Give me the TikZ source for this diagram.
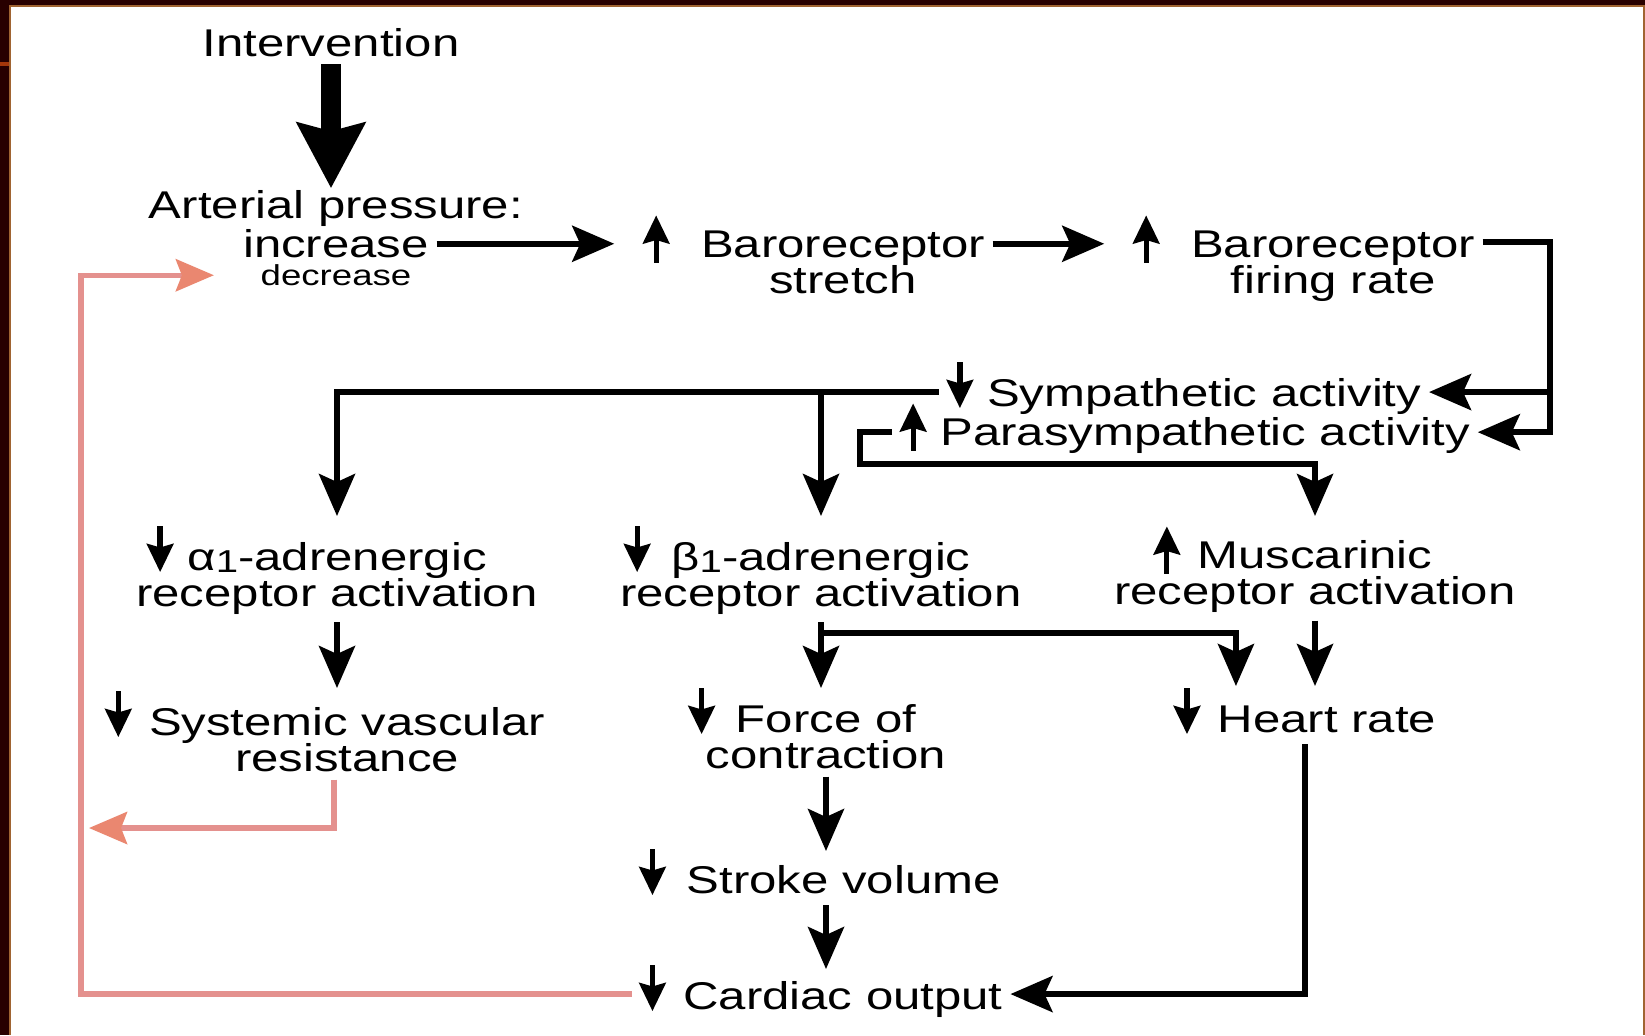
\documentclass[tikz,border=0pt]{standalone}
\usepackage{fontspec}
\setmainfont{Liberation Sans}[FakeStretch=1.27]
\usetikzlibrary{positioning, arrows.meta}
\definecolor{slidebg}{RGB}{40,0,0}
\definecolor{slideedge}{RGB}{160,100,50}
\definecolor{slidetab}{RGB}{165,55,10}
\definecolor{fbline}{RGB}{228,145,142}
\definecolor{fbtip}{RGB}{234,135,112}
\newcommand{\lblfont}{\fontsize{11pt}{10.3pt}\selectfont}
\newcommand{\dnar}{\tikz[baseline=0pt]\draw[line width=1.5pt,-{Stealth[length=8pt,width=7.5pt,inset=1pt]}] (0pt,12.5pt) -- (0pt,-0.5pt);}
\newcommand{\upar}{\tikz[baseline=0pt]\draw[line width=1.5pt,-{Stealth[length=8pt,width=7.5pt,inset=1pt]}] (0pt,-1.5pt) -- (0pt,12pt);}
\newcommand{\subsc}[1]{\raisebox{-0.12ex}{\fontsize{9pt}{9pt}\selectfont #1}}
\tikzset{
	lbl/.style= {
		font=\lblfont,
		align=center,
		inner sep=2pt
	},
	conn/.style= {
		line width=1.6pt,
		-{Stealth[length=0.42cm, width=0.36cm, inset=0.08cm]}
	},
	bigarrow/.style= {
		line width=0.2cm,
		-{Stealth[length=0.65cm, width=0.67cm, inset=0.08cm]}
	},
	fb/.style= {
		fbline,
		line width=1.5pt,
		-{Stealth[length=0.38cm, width=0.32cm, inset=0.06cm, color=fbtip]}
	}
}

\begin{document}
\begin{tikzpicture}[x=0.01cm, y=-0.01cm]

	\useasboundingbox (0,0) rectangle (1645,1035);
	% slide frame
	\fill[slidebg] (0,0) rectangle (1645,1035);
	\fill[white] (10,6) rectangle (1644,1035);
	\draw[slideedge, line width=0.02cm] (10,1035) -- (10,6) -- (1644,6) -- (1644,1035);
	\fill[slidetab] (0,62) rectangle (9,66);

	\node (interv)[lbl, anchor=base] at (331,56) {Intervention};
	\node (art)[lbl, anchor=base] at (336,218) {Arterial pressure:};
	\node (inc)[lbl, below=-3.4pt of art] {increase};
	\node (dec)[lbl, font=\fontsize{8.2pt}{9pt}\selectfont, below=-2.5pt of inc] {decrease};

	\node (stretch)[lbl, anchor=north] at (843,205) {\llap{\upar\hspace{9pt}}Baroreceptor\\stretch};
	\node (firing)[lbl, anchor=north] at (1333,205) {\llap{\upar\hspace{9pt}}Baroreceptor\\firing rate};

	\node (symp)[lbl, anchor=north] at (1184,352) {\dnar\hspace{4pt}Sympathetic activity};
	\node (para)[lbl, anchor=north] at (1185,393) {\upar\hspace{4pt}Parasympathetic activity};

	\node (alpha)[lbl, anchor=north] at (337,516) {\llap{\dnar\hspace{4pt}}α\subsc{1}-adrenergic\\receptor activation};
	\node (beta)[lbl, anchor=north] at (821,516) {\llap{\dnar\hspace{6pt}}β\subsc{1}-adrenergic\\receptor activation};
	\node (musc)[lbl, anchor=north] at (1315,516) {\llap{\upar\hspace{5pt}}Muscarinic\\receptor activation};

	\node (svr)[lbl, anchor=north] at (347,681) {\llap{\dnar\hspace{5pt}}Systemic vascular\\resistance};
	\node (force)[lbl, anchor=north] at (826,678) {\llap{\dnar\hspace{6pt}}Force of\\contraction};
	\node (heart)[lbl, anchor=north] at (1305,678) {\dnar\hspace{5pt}Heart rate};

	\node (stroke)[lbl, anchor=north] at (820,839) {\dnar\hspace{6pt}Stroke volume};
	\node (cardiac)[lbl, anchor=north] at (821,955) {\dnar\hspace{5pt}Cardiac output};

	\coordinate (rbus) at (1550,242);
	\coordinate (pbend) at (860,464);
	\coordinate (bsplit) at (821,633);
	\coordinate (lbus) at (81,991);
	\coordinate (fbjoin) at (89,828);

	\draw[bigarrow, shorten >=-0.06cm] (interv.south) -- (interv.south |- art.north);
	\draw[conn, shorten >=0.79cm] (inc.east) -- (stretch.west |- inc.east);
	\draw[conn, shorten >=0.79cm] (stretch.east |- inc.east) -- (firing.west |- inc.east);
	\draw[conn] (firing.east |- rbus) -- (rbus) |- ([yshift=-0.05cm]para.east);
	\draw[conn] ([yshift=-0.05cm]rbus |- symp.east) -- ([yshift=-0.05cm]symp.east);

	\draw[conn] ([yshift=-0.05cm]symp.west) -| (alpha.north);
	\draw[conn] ([yshift=-0.05cm]symp.west -| beta.north) -- (beta.north);
	\draw[conn] ([yshift=-0.05cm]para.west) -| (pbend) -| (musc.north);

	\draw[conn, shorten >=-0.07cm] (alpha.south) -- (alpha.south |- svr.north);
	\draw[conn, shorten >=-0.1cm] (beta.south) -- (beta.south |- force.north);
	\draw[conn, shorten >=-0.08cm] (bsplit) -| ([xshift=-0.69cm]heart.north);
	\draw[conn, shorten >=-0.08cm] (musc.south) -- (musc.south |- heart.north);
	\draw[conn, shorten >=-0.12cm] (force.south) -- (force.south |- stroke.north);
	\draw[conn, shorten >=-0.14cm] (force.south |- stroke.south) -- (force.south |- cardiac.north);
	\draw[conn] (heart.south) |- ([yshift=-0.04cm]cardiac.east);

	% feedback
	\draw[fb, shorten >=0.39cm] ([yshift=-0.04cm]cardiac.west) -| (lbus |- dec.west) -- (dec.west);
	\draw[fb] ([xshift=-0.13cm]svr.south) |- (fbjoin);

\end{tikzpicture}
\end{document}
